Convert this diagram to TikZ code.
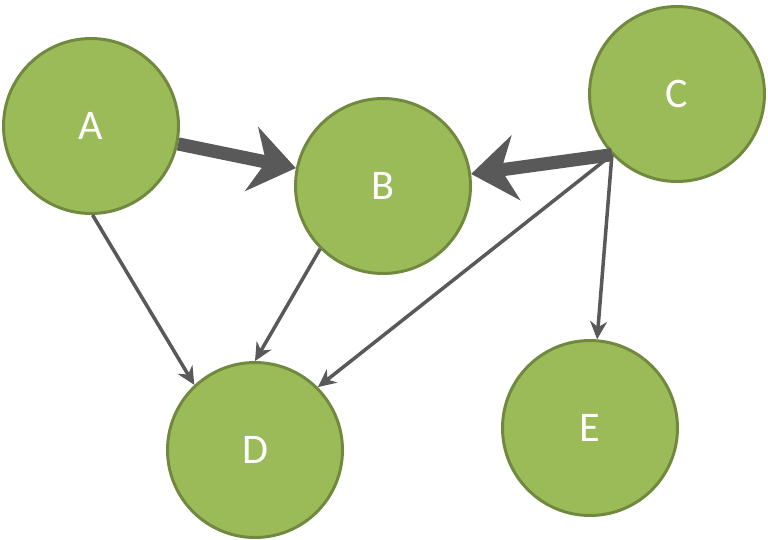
\documentclass[tikz,border=0pt]{standalone}
\usepackage{fontspec}
\setmainfont{Carlito}
\usetikzlibrary{arrows.meta}
\definecolor{leaf}{RGB}{155,187,89}
\definecolor{leafline}{RGB}{113,137,63}
\definecolor{arrowgray}{RGB}{89,89,89}
\tikzset{
  vertex/.style={
    draw=leafline,
    circle,
    fill=leaf,
    minimum size=3.5cm,
    inner sep=0pt,
    line width=1.7pt,
    text=white,
    font=\fontsize{24}{28}\selectfont
  },
  link/.style={
    draw=arrowgray,
    line width=2pt,
    -{Stealth[length=3.6mm, width=3.4mm]}
  },
  strong/.style={
    draw=arrowgray,
    line width=7.5pt,
    -{Stealth[length=9mm, width=13mm]}
  }
}
\begin{document}
\begin{tikzpicture}[x=0.02cm, y=-0.02cm]
  \useasboundingbox (0,0) rectangle (768,539);

  % Vertices
  \node[vertex] (A) at (91,126) {A};
  \node[vertex] (B) at (383,186) {B};
  \node[vertex] (C) at (677,94) {C};
  \node[vertex] (D) at (255,450) {D};
  \node[vertex] (E) at (590,428) {E};

  % Heavy edges
  \draw[strong] (A) -- (B);
  \draw[strong] (C.223) -- (B);

  % Light edges
  \draw[link] (A.-89) -- (D.133);
  \draw[link] (B.225) -- (D.90);
  \draw[link] (C.223) -- (D.45);
  \draw[link] (C.223) -- (E);
\end{tikzpicture}
\end{document}
